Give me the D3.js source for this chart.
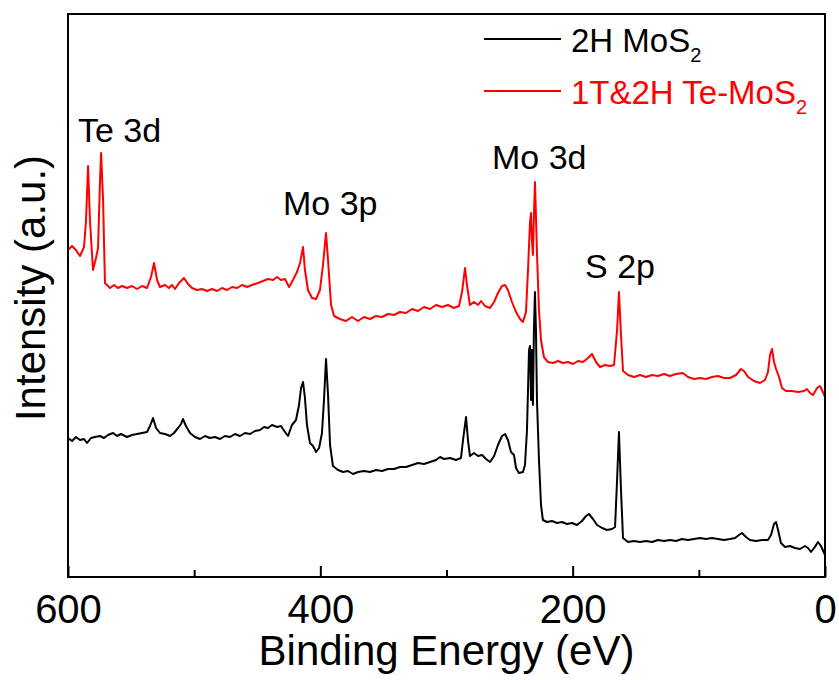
<!DOCTYPE html>
<html>
<head>
<meta charset="utf-8">
<script src="https://cdn.jsdelivr.net/npm/d3@7"></script>
<style>
  body { margin: 0; background: #fff; }
  text { font-family: Arial, "Liberation Sans", sans-serif; }
</style>
</head>
<body>
<div id="chart"></div>
<script>
// Survey XPS spectra, binding energy (eV) against intensity (a.u.)

// 1T&2H Te-MoS2 (red, offset upwards)
var redEnergy = [600.0, 596.8, 593.7, 590.5, 587.3, 585.7, 584.1, 582.6, 580.2, 577.8, 576.2, 574.6, 573.8, 572.2, 570.7,
  566.7, 563.5, 560.4, 557.2, 553.2, 549.3, 545.3, 541.3, 537.4, 534.2, 531.8, 529.4, 527.1, 523.1, 520.0, 517.6,
  515.2, 512.0, 508.1, 504.9, 501.7, 497.8, 493.8, 489.8, 485.9, 481.9, 477.9, 474.0, 470.0, 466.0, 462.1, 458.1,
  454.2, 449.4, 445.4, 441.5, 437.5, 434.3, 431.2, 428.0, 424.8, 421.7, 418.5, 416.1, 413.7, 412.2, 409.8, 406.6,
  403.4, 400.3, 397.9, 395.5, 393.9, 391.5, 389.1, 384.4, 379.7, 374.9, 370.1, 365.4, 360.6, 355.9, 351.1, 346.4,
  341.6, 336.9, 332.1, 327.3, 322.6, 317.8, 313.1, 308.3, 303.6, 298.8, 294.1, 290.1, 287.7, 285.3, 283.8, 281.4,
  278.2, 275.0, 272.6, 269.5, 265.5, 262.3, 259.2, 256.0, 253.6, 251.3, 248.1, 244.9, 241.7, 239.4, 237.0, 235.4,
  233.8, 233.0, 232.3, 231.5, 230.7, 229.9, 229.1, 228.3, 226.7, 225.1, 222.8, 219.6, 215.6, 211.6, 207.7, 203.7,
  199.7, 195.8, 191.8, 187.8, 184.7, 181.5, 178.3, 174.4, 170.4, 167.2, 164.8, 163.3, 161.7, 160.1, 156.1, 151.4,
  146.6, 141.9, 137.1, 132.4, 127.6, 122.9, 118.1, 112.6, 108.6, 103.8, 99.1, 94.3, 89.6, 84.8, 80.0, 75.3, 70.5,
  66.6, 64.2, 61.0, 56.3, 51.5, 47.6, 45.2, 43.6, 42.0, 40.4, 38.8, 36.4, 34.1, 30.9, 26.1, 21.4, 16.6, 14.3, 11.9,
  9.5, 6.3, 4.0, 2.4, 0.0]
var redIntensity = [327, 331, 327, 321, 330, 357, 411, 357, 307, 319, 329, 397, 424, 377, 294,
  289, 292, 289, 291, 289, 291, 288, 291, 289, 300, 314, 297, 290, 292, 289, 292,
  288, 294, 299, 293, 289, 287, 288, 286, 288, 286, 289, 287, 290, 289, 292, 290,
  292, 294, 296, 298, 297, 300, 297, 298, 290, 297, 305, 314, 330, 307, 287, 279,
  278, 287, 312, 344, 317, 272, 261, 258, 256, 260, 256, 260, 258, 261, 260, 263,
  262, 265, 264, 268, 266, 270, 268, 272, 270, 272, 269, 271, 285, 309, 292, 272,
  275, 272, 276, 271, 269, 275, 284, 291, 292, 287, 275, 265, 258, 255, 265, 307,
  355, 364, 337, 322, 362, 395, 362, 324, 267, 237, 220, 215, 214, 216, 214, 215,
  213, 216, 215, 219, 223, 215, 210, 212, 211, 212, 247, 285, 242, 206, 202, 200,
  202, 200, 202, 201, 203, 201, 203, 204, 200, 198, 199, 198, 200, 201, 199, 199, 202,
  208, 206, 200, 196, 194, 197, 205, 222, 228, 215, 208, 200, 189, 186, 186, 185, 186, 188, 184,
  182, 189, 191, 187, 180]

// 2H MoS2 (black)
var blackEnergy = [600.0, 596.8, 593.7, 590.5, 587.3, 584.9, 581.8, 578.6, 574.6, 571.5, 568.3, 564.3, 561.2, 558.0,
  553.2, 549.3, 545.3, 541.3, 537.4, 535.0, 532.6, 530.2, 527.1, 523.1, 519.2, 516.0, 512.8, 510.4, 508.9, 506.5,
  503.3, 499.3, 495.4, 491.4, 487.5, 483.5, 479.5, 475.6, 471.6, 467.6, 463.7, 459.7, 455.7, 451.8, 447.8, 444.6,
  441.5, 438.3, 434.3, 431.2, 428.0, 425.6, 422.5, 419.3, 416.9, 415.3, 413.7, 412.2, 410.6, 408.2, 405.8, 403.4,
  401.0, 398.7, 397.1, 395.5, 393.9, 392.3, 390.0, 386.0, 382.0, 378.1, 374.1, 370.1, 365.4, 360.6, 355.9, 351.1,
  346.4, 341.6, 336.9, 332.1, 327.3, 322.6, 317.8, 313.1, 308.3, 305.1, 302.0, 297.2, 292.5, 288.5, 286.9, 284.5,
  283.0, 281.4, 278.2, 275.0, 271.8, 268.7, 265.5, 262.3, 259.2, 256.0, 253.6, 251.3, 248.9, 246.5, 244.9, 242.6,
  239.4, 237.8, 236.2, 234.6, 233.8, 233.0, 232.3, 231.5, 230.7, 229.9, 229.1, 228.3, 226.7, 225.1, 223.6, 220.4,
  216.4, 212.4, 208.5, 204.5, 200.5, 196.6, 192.6, 189.4, 187.1, 183.9, 180.7, 176.7, 172.8, 168.8, 166.4, 164.8,
  163.3, 161.7, 160.1, 156.1, 151.4, 146.6, 141.9, 137.1, 132.4, 127.6, 122.9, 118.1, 113.4, 108.6, 103.8, 99.1,
  94.3, 89.6, 84.8, 80.0, 75.3, 71.3, 68.2, 65.8, 62.6, 59.5, 54.7, 50.0, 45.2, 42.8, 40.4, 38.8, 37.2, 34.9, 31.7,
  27.7, 23.8, 19.8, 15.9, 13.5, 11.1, 8.0, 5.6, 3.2, 0.0]
var blackIntensity = [139, 136, 140, 137, 138, 134, 139, 140, 141, 139, 142, 144, 141, 143,
  140, 142, 143, 144, 145, 151, 159, 149, 144, 143, 141, 144, 149, 153, 158, 151,
  144, 140, 138, 141, 139, 140, 138, 141, 140, 143, 141, 144, 143, 146, 147, 150,
  149, 152, 150, 151, 145, 141, 152, 157, 172, 189, 195, 179, 152, 134, 131, 125,
  129, 144, 177, 218, 182, 132, 111, 107, 105, 106, 103, 105, 106, 105, 107, 106,
  108, 108, 110, 110, 112, 114, 113, 115, 117, 120, 118, 119, 117, 119, 137, 160,
  137, 121, 124, 121, 122, 118, 115, 121, 132, 141, 143, 137, 125, 122, 109, 104,
  105, 112, 147, 227, 231, 177, 227, 172, 247, 285, 247, 177, 117, 72, 57, 55,
  56, 54, 55, 53, 54, 52, 56, 61, 63, 58, 52, 49, 47, 48, 50, 97,
  145, 87, 39, 35, 36, 35, 36, 35, 37, 36, 37, 36, 38, 37, 38, 39,
  38, 39, 38, 37, 38, 39, 42, 44, 40, 37, 36, 37, 37, 42, 53, 55, 47, 34, 30,
  31, 29, 28, 31, 29, 25, 30, 35, 31, 22]

// Axis ticks and labels
var majorTicks = [600, 400, 200, 0]
var minorTicks = [500, 300, 100]
var seriesNames = ['2H MoS', '1T&2H Te-MoS']
var seriesColors = ['#000000', '#ff0000']
var peakLabels = ['Te 3d', 'Mo 3p', 'Mo 3d', 'S 2p']
// left edge of each annotation, in eV
var peakLabelEnergy = [592.1, 429.6, 263.9, 190.2]

// Layout
var margin = { top: 14, right: 14, bottom: 103, left: 68 }
var width = 839 - margin.left - margin.right
var height = 680 - margin.top - margin.bottom

var svg = d3.select('#chart').append('svg')
  .attr('width', 839)
  .attr('height', 680)

var g = svg.append('g')
  .attr('transform', 'translate(' + margin.left + ',' + margin.top + ')')

// Binding energy runs right to left
var x = d3.scaleLinear().domain([600, 0]).range([0, width])
var y = d3.scaleLinear().domain([0, 563]).range([height, 0])

var line = d3.line()
  .x(function (d) { return x(d[0]) })
  .y(function (d) { return y(d[1]) })

var blackData = d3.zip(blackEnergy, blackIntensity)
var redData = d3.zip(redEnergy, redIntensity)

g.append('path')
  .datum(blackData)
  .attr('d', line)
  .attr('fill', 'none')
  .attr('stroke', seriesColors[0])
  .attr('stroke-width', 2)
  .attr('stroke-linejoin', 'round')

g.append('path')
  .datum(redData)
  .attr('d', line)
  .attr('fill', 'none')
  .attr('stroke', seriesColors[1])
  .attr('stroke-width', 2)
  .attr('stroke-linejoin', 'round')

// Frame
g.append('rect')
  .attr('width', width)
  .attr('height', height)
  .attr('fill', 'none')
  .attr('stroke', '#000')
  .attr('stroke-width', 2)

// Bottom axis, ticks pointing inward
var xAxis = g.append('g')
  .attr('transform', 'translate(0,' + height + ')')
  .call(d3.axisBottom(x).tickValues(majorTicks).tickSize(-11).tickPadding(18).tickFormat(d3.format('d')))

xAxis.select('.domain').remove()
xAxis.selectAll('.tick line').attr('stroke-width', 2)
xAxis.selectAll('.tick text')
  .attr('font-size', '40px')
  .attr('fill', '#000')
  .attr('dy', '0.71em')

g.append('g')
  .attr('transform', 'translate(0,' + height + ')')
  .call(d3.axisBottom(x).tickValues(minorTicks).tickSize(-7).tickFormat(''))
  .call(function (a) { a.select('.domain').remove() })
  .selectAll('.tick line').attr('stroke-width', 2)

// Axis titles
svg.append('text')
  .attr('x', margin.left + width / 2)
  .attr('y', 665)
  .attr('text-anchor', 'middle')
  .attr('font-size', '42px')
  .text('Binding Energy (eV)')

svg.append('text')
  .attr('transform', 'translate(45,' + 288 + ') rotate(-90)')
  .attr('text-anchor', 'middle')
  .attr('font-size', '42px')
  .text('Intensity (a.u.)')

// Peak annotations
var labelY = [142, 215, 169, 278]
peakLabels.forEach(function (d, i) {
  svg.append('text')
    .attr('x', margin.left + x(peakLabelEnergy[i]))
    .attr('y', labelY[i])
    .attr('font-size', '34px')
    .text(d)
})

// Legend
var legend = svg.append('g').attr('transform', 'translate(484,39)')
seriesNames.forEach(function (d, i) {
  var row = legend.append('g').attr('transform', 'translate(0,' + i * 52 + ')')
  row.append('line')
    .attr('x1', 0).attr('x2', 77)
    .attr('stroke', seriesColors[i])
    .attr('stroke-width', 2)
  var t = row.append('text')
    .attr('x', 87)
    .attr('y', 13)
    .attr('font-size', '33px')
    .attr('fill', seriesColors[i])
  t.append('tspan').text(d)
  t.append('tspan')
    .attr('font-size', '20px')
    .attr('dy', 10)
    .text('2')
})
</script>
</body>
</html>
